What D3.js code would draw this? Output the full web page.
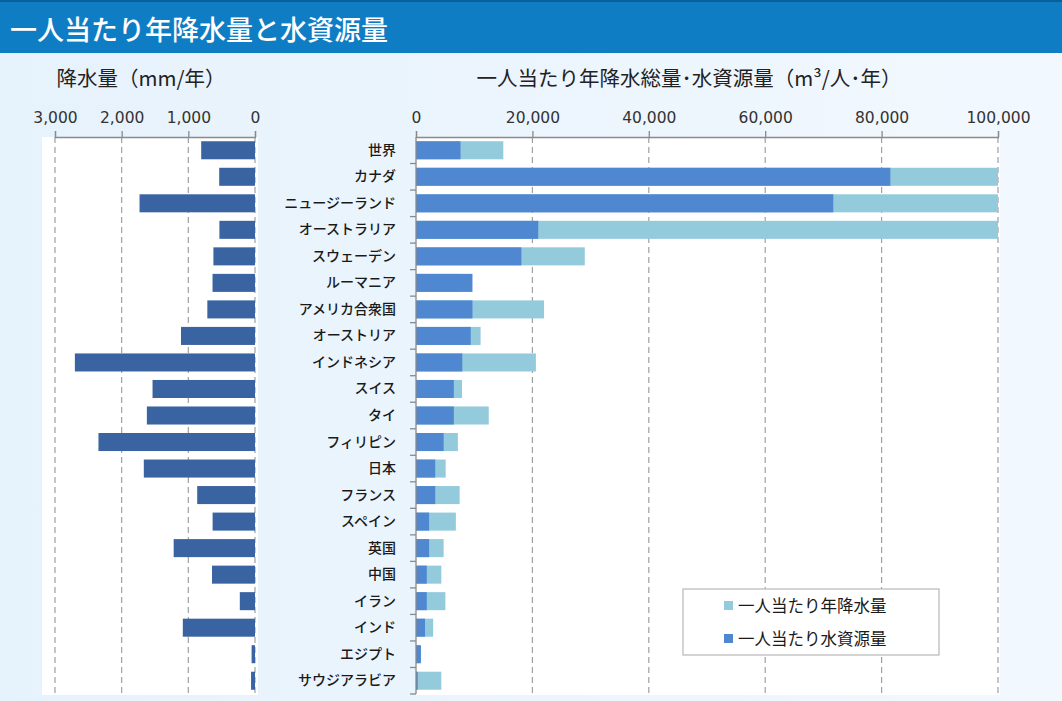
<!DOCTYPE html>
<html><head><meta charset="utf-8">
<script src="https://cdn.jsdelivr.net/npm/d3@7"></script>
<style>
html,body{margin:0;padding:0;background:#eef6fd;}
svg{display:block;}
text{font-family:"Noto Sans CJK JP","Noto Sans",sans-serif;}
</style></head>
<body><svg id="chart" width="1062" height="701"></svg>
<script>
// ---- data ----
const categories = ["世界","カナダ","ニュージーランド","オーストラリア","スウェーデン","ルーマニア","アメリカ合衆国","オーストリア","インドネシア","スイス","タイ","フィリピン","日本","フランス","スペイン","英国","中国","イラン","インド","エジプト","サウジアラビア"];
const precipitationMm = [807,537,1732,534,624,637,715,1110,2702,1537,1622,2348,1668,867,636,1220,645,228,1083,51,59];
const precipPerCapita = [15000,155000,104000,180000,29000,7600,22000,11100,20600,7900,12500,7200,5100,7500,6850,4750,4350,5050,2950,640,4350];
const waterPerCapita  = [7650,81500,71700,21000,18100,9700,9700,9400,7950,6500,6500,4750,3300,3300,2250,2250,1850,1850,1550,850,300];
const leftTicks = [3000,2000,1000,0];
const rightTicks = [0,20000,40000,60000,80000,100000];
const title = "一人当たり年降水量と水資源量";
const leftTitle = "降水量（mm/年）";
const rightTitle = "一人当たり年降水総量･水資源量（m³/人･年）";
const legendLabels = ["一人当たり年降水量","一人当たり水資源量"];

// ---- layout ----
const svg = d3.select("#chart");
const W = 1062, H = 701;
const plotTop = 137, plotBottom = 694;
const colLeft = "#3a64a1", colDark = "#4f87d1", colLight = "#93cbdc";

const defs = svg.append("defs");
const g1 = defs.append("linearGradient").attr("id","bg").attr("x1","0").attr("x2","1").attr("y1","0").attr("y2","0");
g1.append("stop").attr("offset","0").attr("stop-color","#e6f2fc");
g1.append("stop").attr("offset","1").attr("stop-color","#f2f8fe");
svg.append("rect").attr("width",W).attr("height",H).attr("fill","url(#bg)");

// title band
svg.append("rect").attr("x",0).attr("y",0).attr("width",W).attr("height",53).attr("fill","#0f7dc4");
svg.append("rect").attr("x",0).attr("y",0).attr("width",W).attr("height",2).attr("fill","#0a5f9a");
svg.append("text").attr("x",10).attr("y",40).attr("fill","#fff").attr("font-size",27).attr("font-weight",500).text(title);

const y = d3.scaleBand().domain(categories).range([plotTop, plotBottom]).paddingInner(0.32).paddingOuter(0.16);
const xL = d3.scaleLinear().domain([0,3000]).range([255,55]);
const xR = d3.scaleLinear().domain([0,100000]).range([416,998]).clamp(true);

// white plot areas
svg.append("rect").attr("x",42).attr("y",plotTop).attr("width",216).attr("height",plotBottom-plotTop+1).attr("fill","#fff");
svg.append("rect").attr("x",416).attr("y",plotTop).attr("width",584).attr("height",plotBottom-plotTop+1).attr("fill","#fff");

// gridlines
svg.append("g").selectAll("line").data(leftTicks).join("line")
  .attr("x1",d=>xL(d)).attr("x2",d=>xL(d)).attr("y1",plotTop).attr("y2",plotBottom)
  .attr("stroke","#a0a0a0").attr("stroke-width",1.2).attr("stroke-dasharray","6,4");
svg.append("g").selectAll("line").data(rightTicks.filter(d=>d>0)).join("line")
  .attr("x1",d=>xR(d)).attr("x2",d=>xR(d)).attr("y1",plotTop).attr("y2",plotBottom)
  .attr("stroke","#a0a0a0").attr("stroke-width",1.2).attr("stroke-dasharray","6,4");

// left bars
svg.append("g").selectAll("rect").data(categories).join("rect")
  .attr("x",(d,i)=>xL(precipitationMm[i])).attr("y",d=>y(d))
  .attr("width",(d,i)=>xL(0)-xL(precipitationMm[i])).attr("height",y.bandwidth())
  .attr("fill",colLeft);

// right bars: light (precipitation per capita) then dark (water resources)
svg.append("g").selectAll("rect").data(categories).join("rect")
  .attr("x",xR(0)).attr("y",d=>y(d))
  .attr("width",(d,i)=>xR(precipPerCapita[i])-xR(0)).attr("height",y.bandwidth())
  .attr("fill",colLight);
svg.append("g").selectAll("rect").data(categories).join("rect")
  .attr("x",xR(0)).attr("y",d=>y(d))
  .attr("width",(d,i)=>xR(waterPerCapita[i])-xR(0)).attr("height",y.bandwidth())
  .attr("fill",colDark);

// top axes
function styleAxis(g){
  g.selectAll("path,line").attr("stroke","#8a8a8a").attr("stroke-width",1.3);
  g.selectAll("text").attr("fill","#333").style("font-family","'DejaVu Sans',sans-serif").attr("font-size",15.5);
}
svg.append("g").attr("transform",`translate(0,${plotTop})`)
  .call(d3.axisTop(xL).tickValues(leftTicks).tickSize(6).tickPadding(8).tickFormat(d3.format(",")))
  .call(styleAxis);
svg.append("g").attr("transform",`translate(0,${plotTop})`)
  .call(d3.axisTop(xR).tickValues(rightTicks).tickSize(6).tickPadding(8).tickFormat(d3.format(",")))
  .call(styleAxis);

// right vertical category axis
const yAxis = d3.axisLeft(y).tickSize(0).tickPadding(20);
const ya = svg.append("g").attr("transform",`translate(416,0)`).call(yAxis);
ya.select(".domain").remove();
ya.selectAll("text").attr("font-size",14).attr("fill","#1a1a1a").attr("font-weight",500);
svg.append("line").attr("x1",416).attr("x2",416).attr("y1",plotTop).attr("y2",plotBottom).attr("stroke","#8a8a8a").attr("stroke-width",1.3);
const bounds = categories.map(c=>y(c)-y.step()*y.paddingInner()/2).slice(1).concat([plotBottom]);
svg.append("g").selectAll("line").data(bounds).join("line")
  .attr("x1",410).attr("x2",416).attr("y1",d=>d).attr("y2",d=>d)
  .attr("stroke","#8a8a8a").attr("stroke-width",1.3);

// axis titles
svg.append("text").attr("x",141).attr("y",86).attr("text-anchor","middle").attr("font-size",20.5).attr("fill","#222").text(leftTitle);
svg.append("text").attr("x",689).attr("y",86).attr("text-anchor","middle").attr("font-size",20.5).attr("fill","#222").text(rightTitle);

// legend
const lg = svg.append("g");
lg.append("rect").attr("x",683).attr("y",589).attr("width",256).attr("height",66).attr("fill","#fff").attr("stroke","#bdbdbd").attr("stroke-width",1.3);
const legCols = [colLight, colDark];
legendLabels.forEach((t,i)=>{
  const cy = 606 + i*33;
  lg.append("rect").attr("x",724).attr("y",cy-5).attr("width",9).attr("height",9).attr("fill",legCols[i]);
  lg.append("text").attr("x",738).attr("y",cy).attr("dy","0.35em").attr("font-size",16.5).attr("fill","#1a1a1a").text(t);
});
</script></body></html>
